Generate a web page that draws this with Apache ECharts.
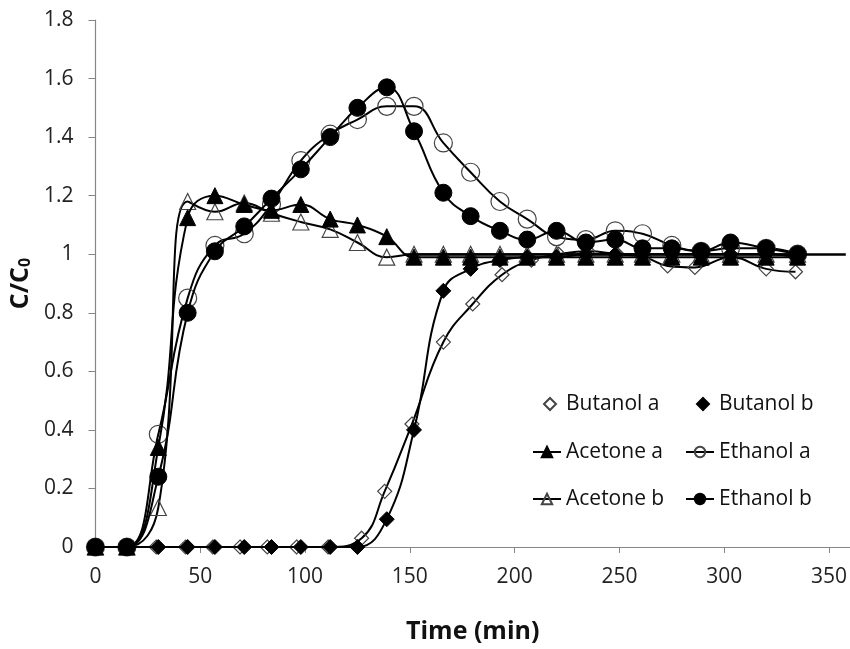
<!DOCTYPE html>
<html>
<head>
<meta charset="utf-8">
<script src="https://cdn.jsdelivr.net/npm/echarts@6/dist/echarts.min.js"></script>
<style>
  html, body { margin: 0; padding: 0; background: #fff; }
  #chart { width: 850px; height: 649px; }
</style>
</head>
<body>
<div id="chart"></div>
<script>
// sampling times (min)
var time = [0, 15, 30, 44, 57, 71, 84, 98, 112, 125, 139, 152, 166, 179, 193, 206, 220, 234, 248, 261, 275, 289, 303, 320, 335]
var timeButanolA = [0, 15, 29, 43, 56, 69, 82, 96, 111, 127, 138, 151, 166, 180, 194, 208, 221, 235, 249, 262, 273, 286, 303, 320, 334]

// C/C0 values
var butanolA = [0, 0, 0, 0, 0, 0, 0, 0, 0, 0.03, 0.19, 0.42, 0.70, 0.83, 0.93, 0.98, 1.0, 1.01, 1.0, 0.99, 0.96, 0.955, 0.99, 0.95, 0.94]
var butanolB = [0, 0, 0, 0, 0, 0, 0, 0, 0, 0, 0.095, 0.40, 0.875, 0.95, 0.98, 0.99, 0.99, 1.0, 1.0, 1.0, 1.0, 1.0, 1.0, 1.0, 0.99]
var acetoneA = [0, 0, 0.34, 1.125, 1.2, 1.17, 1.15, 1.17, 1.12, 1.10, 1.06, 0.99, 0.99, 0.99, 0.99, 0.99, 0.99, 0.99, 0.99, 0.99, 0.99, 0.99, 0.99, 0.99, 0.99]
var acetoneB = [0, 0, 0.135, 1.18, 1.145, 1.175, 1.14, 1.11, 1.085, 1.04, 0.99, 1.0, 1.0, 1.0, 1.0, 1.0, 1.0, 1.0, 1.0, 1.0, 1.0, 1.0, 1.0, 1.0, 1.0]
var ethanolA = [0, 0, 0.385, 0.85, 1.03, 1.07, 1.17, 1.32, 1.41, 1.46, 1.505, 1.505, 1.38, 1.28, 1.18, 1.12, 1.06, 1.05, 1.08, 1.07, 1.03, 1.01, 1.02, 1.02, 1.0]
var ethanolB = [0, 0, 0.24, 0.80, 1.01, 1.095, 1.19, 1.29, 1.40, 1.50, 1.57, 1.42, 1.21, 1.13, 1.08, 1.05, 1.08, 1.04, 1.05, 1.02, 1.02, 1.01, 1.04, 1.02, 1.0]

var font = 'Open Sans'
var axisColor = '#868686'

function pairs(xs, ys) {
  return ys.map(function(v, i) { return [xs[i], v] })
}

function line(name, xs, ys, symbol, size, filled) {
  return {
    name: name,
    type: 'line',
    smooth: 0.45,
    data: pairs(xs, ys),
    symbol: symbol,
    symbolSize: size,
    showAllSymbol: true,
    lineStyle: { color: '#000', width: 2 },
    itemStyle: filled
      ? { color: '#000', borderColor: '#000', borderWidth: 1 }
      : { color: 'transparent', borderColor: '#444', borderWidth: 1.2 },
    emphasis: { disabled: true },
    z: filled ? 3 : 2
  }
}

var series = [
  line('Butanol a', timeButanolA, butanolA, 'diamond', 14, false),
  line('Butanol b', time, butanolB, 'diamond', 15, true),
  line('Acetone a', time, acetoneA, 'triangle', 16, true),
  line('Ethanol a', time, ethanolA, 'circle', 18, false),
  line('Acetone b', time, acetoneB, 'triangle', 16, false),
  line('Ethanol b', time, ethanolB, 'circle', 17, true)
]
// plateau line at C/C0 = 1 running to the end of the axis
series[2].markLine = {
  silent: true,
  symbol: 'none',
  label: { show: false },
  lineStyle: { color: '#000', width: 2.5, type: 'solid' },
  data: [[{ coord: [147, 1] }, { coord: [358, 1] }]]
}

var legendText = { fontFamily: font, fontSize: 21, color: '#111', lineHeight: 24 }

function markerLegend(name, left) {
  return {
    left: left, top: 392, padding: 0, itemWidth: 12, itemHeight: 12,
    textStyle: Object.assign({ padding: [0, 0, 0, 5] }, legendText),
    data: [{ name: name, icon: 'diamond' }]
  }
}

var chart = echarts.init(document.getElementById('chart'))
chart.setOption({
  animation: false,
  grid: { left: 94, right: 0, top: 20, bottom: 101, containLabel: false },
  legend: [
    markerLegend('Butanol a', 543),
    markerLegend('Butanol b', 696),
    {
      orient: 'vertical', left: 532, top: 440, padding: 0, itemWidth: 28, itemHeight: 13, itemGap: 23,
      textStyle: legendText,
      data: ['Acetone a', 'Acetone b']
    },
    {
      orient: 'vertical', left: 685, top: 440, padding: 0, itemWidth: 28, itemHeight: 13, itemGap: 23,
      textStyle: legendText,
      data: ['Ethanol a', 'Ethanol b']
    }
  ],
  xAxis: {
    type: 'value',
    min: 0,
    max: 360,
    interval: 50,
    name: 'Time (min)',
    nameLocation: 'middle',
    nameGap: 72,
    nameTextStyle: { fontFamily: font, fontSize: 25, fontWeight: 'bold', color: '#111' },
    axisLine: { lineStyle: { color: axisColor, width: 1.2 } },
    axisTick: { show: true, length: 6, lineStyle: { color: axisColor } },
    axisLabel: { fontFamily: font, fontSize: 21, color: '#222', margin: 20, showMaxLabel: false },
    splitLine: { show: false }
  },
  yAxis: {
    type: 'value',
    min: 0,
    max: 1.8,
    interval: 0.2,
    name: '{a|C/C}{b|0}',
    nameLocation: 'middle',
    nameRotate: 90,
    nameGap: 54,
    nameTextStyle: {
      rich: {
        a: { fontFamily: font, fontSize: 25, fontWeight: 'bold', color: '#111' },
        b: { fontFamily: font, fontSize: 16, fontWeight: 'bold', color: '#111', verticalAlign: 'bottom', padding: [9, 0, 0, 0] }
      }
    },
    axisLine: { show: true, lineStyle: { color: axisColor, width: 1.2 } },
    axisTick: { show: true, length: 7, lineStyle: { color: axisColor } },
    axisLabel: { fontFamily: font, fontSize: 21, color: '#222', margin: 22 },
    splitLine: { show: false }
  },
  series: series
})
window.addEventListener('resize', function() {
  chart.resize()
})
</script>
</body>
</html>
